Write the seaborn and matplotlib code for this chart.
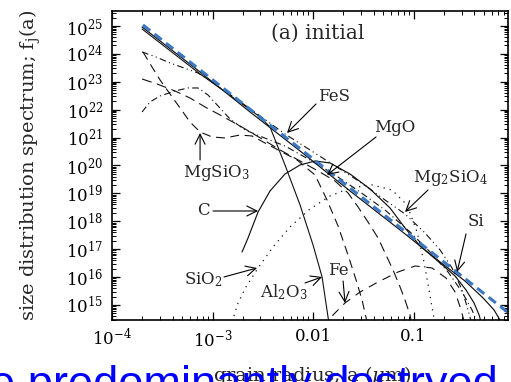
import numpy as np
import pandas as pd
import matplotlib
matplotlib.use("Agg")
import matplotlib.pyplot as plt
import matplotlib.ticker as mticker
import seaborn as sns

# values are log10(grain radius / um) and log10(f_j(a))
si_la = [-3.701, -3.124, -2.627, -2.129, -1.632, -1.134, -0.736, -0.488, -0.308, -0.199, -0.129, -0.090]
si_lf = [24.964, 23.351, 21.918, 20.520, 19.086, 17.688, 16.541, 15.860, 15.251, 14.821, 14.391, 14.032]

c_la = [-2.706, -2.647, -2.547, -2.428, -2.279, -2.129, -1.980, -1.831, -1.632, -1.433, -1.234,
        -1.085, -0.935, -0.736, -0.587, -0.478, -0.398, -0.348, -0.318]
c_lf = [16.900, 17.401, 18.333, 19.086, 19.695, 20.018, 20.161, 20.090, 19.695, 19.158, 18.477,
        17.760, 17.115, 16.505, 16.039, 15.538, 15.072, 14.642, 14.247]

fes_la = [-3.701, -3.124, -2.677, -2.527, -2.428, -2.279, -2.129, -2.000, -1.910, -1.851, -1.831]
fes_lf = [24.892, 23.280, 22.133, 21.738, 21.380, 20.018, 18.584, 17.151, 16.004, 14.570, 14.104]

sio2_la = [-2.806, -2.746, -2.667, -2.547, -2.398, -2.229, -2.030, -1.831, -1.632, -1.413, -1.214,
           -1.065, -0.965, -0.896, -0.846, -0.806, -0.776]
sio2_lf = [14.391, 15.072, 15.645, 16.326, 17.079, 17.796, 18.441, 18.907, 19.194, 19.301, 19.122,
           18.584, 17.617, 16.541, 15.538, 14.713, 14.104]

mgsio3_la = [-3.692, -3.602, -3.522, -3.423, -3.323, -3.224, -3.124, -3.005, -2.876, -2.726, -2.607,
             -2.478, -2.328, -2.159, -1.980, -1.861, -1.751, -1.652, -1.572, -1.512, -1.463]
mgsio3_lf = [24.068, 23.530, 23.065, 22.563, 22.061, 21.559, 21.201, 21.022, 20.986, 21.093, 21.057,
             20.806, 20.520, 20.197, 19.659, 18.763, 17.832, 16.792, 15.896, 15.179, 14.391]

al2o3_la = [-3.701, -3.552, -3.373, -3.224, -3.075, -2.925, -2.726, -2.507, -2.328, -2.129, -1.950,
            -1.781, -1.652, -1.552, -1.453, -1.353, -1.274, -1.204, -1.134, -1.085, -1.035, -1.015]
al2o3_lf = [23.100, 22.921, 22.670, 22.419, 22.097, 21.810, 21.416, 20.950, 20.556, 20.161, 19.803,
            19.444, 19.014, 18.513, 17.975, 17.401, 16.792, 16.254, 15.645, 15.179, 14.642, 14.283]

fe_la = [-1.871, -1.801, -1.682, -1.532, -1.353, -1.154, -0.985, -0.816, -0.677, -0.587, -0.527, -0.488]
fe_lf = [14.104, 14.642, 15.072, 15.466, 15.824, 16.183, 16.398, 16.326, 15.968, 15.466, 14.824, 14.283]

mgo_la = [-3.701, -3.622, -3.522, -3.373, -3.244, -3.144, -3.045, -2.945, -2.826, -2.677, -2.507,
          -2.279, -2.030, -1.781, -1.532, -1.284, -1.035, -0.836, -0.657, -0.517, -0.418, -0.358]
mgo_lf = [21.918, 22.276, 22.491, 22.670, 22.778, 22.778, 22.527, 22.133, 21.667, 21.272, 21.022,
          20.699, 20.197, 19.659, 19.050, 18.405, 17.617, 16.900, 16.183, 15.466, 14.821, 14.283]

mg2sio4_la = [-3.701, -3.562, -3.423, -3.284, -3.144, -2.975, -2.776, -2.527, -2.279, -2.030, -1.781,
              -1.532, -1.284, -1.085, -0.886, -0.736, -0.617, -0.517, -0.458, -0.418]
mg2sio4_lf = [24.068, 23.889, 23.674, 23.495, 23.315, 22.921, 22.419, 21.774, 21.129, 20.556, 19.982,
              19.409, 18.763, 18.262, 17.581, 16.971, 16.326, 15.538, 14.821, 14.283]

fit_la = [-3.692, 0.060]
fit_lf = [25.036, 14.391]

# labels: (text, text position, arrow start, arrow tip) in log10 data units
labels = ["FeS", "MgO", "Mg$_2$SiO$_4$", "Si", "MgSiO$_3$", "C", "SiO$_2$", "Fe", "Al$_2$O$_3$"]
label_pos = [(-1.791, 22.455), (-1.184, 21.344), (-0.637, 19.552), (-0.378, 17.975), (-2.965, 19.731),
             (-3.095, 18.369), (-3.095, 15.896), (-1.751, 16.254), (-2.289, 15.466)]
arrow_from = [(-1.970, 22.204), (-1.373, 21.022), (-0.856, 19.122), (-0.478, 17.545), (-3.124, 20.197),
              (-2.995, 18.369), (-2.886, 16.004), (-1.701, 15.860), (-2.080, 15.789)]
arrow_to = [(-2.259, 21.165), (-1.861, 19.659), (-1.085, 18.333), (-0.567, 16.183), (-3.124, 21.165),
            (-2.547, 18.369), (-2.557, 16.326), (-1.682, 15.072), (-1.910, 16.004)]

sns.set_style("ticks")
plt.rcParams['font.family'] = ['DejaVu Serif']
plt.rcParams['mathtext.fontset'] = 'dejavuserif'

fig = plt.figure(figsize=(5.11, 3.82), dpi=100)
ax = fig.add_axes([0.2192, 0.1623, 0.775, 0.809])
ax.set_xscale('log')
ax.set_yscale('log')

curves = [
    (si_la, si_lf, '-', 0.85),
    (c_la, c_lf, '-', 0.85),
    (fes_la, fes_lf, '-', 0.8),
    (sio2_la, sio2_lf, (0, (1, 4)), 0.9),
    (mgsio3_la, mgsio3_lf, (0, (8, 5)), 0.8),
    (al2o3_la, al2o3_lf, (0, (9, 5)), 0.8),
    (fe_la, fe_lf, (0, (8, 6)), 0.8),
    (mgo_la, mgo_lf, (0, (6, 3, 1, 3)), 0.8),
    (mg2sio4_la, mg2sio4_lf, (0, (6, 3, 1, 3, 1, 3)), 0.8),
]
for la, lf, ls, lw in curves:
    df = pd.DataFrame({'a': 10 ** np.array(la), 'f': 10 ** np.array(lf)})
    sns.lineplot(data=df, x='a', y='f', ax=ax, color='#111111', linewidth=lw,
                 linestyle=ls, sort=False, estimator=None, legend=False)

df_fit = pd.DataFrame({'a': 10 ** np.array(fit_la), 'f': 10 ** np.array(fit_lf)})
sns.lineplot(data=df_fit, x='a', y='f', ax=ax, color='#3b78c3', linewidth=2.2,
             linestyle=(0, (3, 1.8)), sort=False, estimator=None, legend=False)

ax.set_xlim(1e-4, 10 ** -0.06)
ax.set_ylim(10 ** 14.462, 10 ** 25.538)

ax.xaxis.set_major_locator(mticker.LogLocator(base=10, numticks=20))
ax.xaxis.set_minor_locator(mticker.LogLocator(base=10, subs=np.arange(2, 10), numticks=50))
ax.yaxis.set_major_locator(mticker.LogLocator(base=10, numticks=40))
ax.yaxis.set_minor_locator(mticker.LogLocator(base=10, subs=np.arange(2, 10), numticks=200))

def xfmt(v, pos):
    e = int(round(np.log10(v)))
    if e <= -3:
        return r'$10^{%d}$' % e
    return '%g' % v

ax.xaxis.set_major_formatter(mticker.FuncFormatter(xfmt))
ax.xaxis.set_minor_formatter(mticker.NullFormatter())
ax.yaxis.set_major_formatter(mticker.LogFormatterMathtext())
ax.yaxis.set_minor_formatter(mticker.NullFormatter())

ax.tick_params(which='both', direction='in', top=True, right=True, colors='black', labelsize=12)
ax.tick_params(which='major', length=6, width=0.9, pad=6)
ax.tick_params(which='minor', length=3, width=0.7)
for s in ax.spines.values():
    s.set_linewidth(1.2)
    s.set_color('black')

ax.set_xlabel(r'grain radius; a ($\mu$m)', fontsize=14)
ax.xaxis.set_label_coords(0.505, -0.178)
ax.xaxis.label.set_va('center')
ax.set_ylabel(r'size distribution spectrum; f$_{\rm j}$(a)', fontsize=14)
ax.yaxis.set_label_coords(-0.207, 0.5)
ax.yaxis.label.set_va('center')

ax.text(0.52, 0.929, '(a) initial', transform=ax.transAxes, ha='center', va='center', fontsize=14.5)

for txt, tp, af, at in zip(labels, label_pos, arrow_from, arrow_to):
    ax.text(10 ** tp[0], 10 ** tp[1], txt, ha='center', va='center', fontsize=12)
    ax.annotate('', xy=(10 ** at[0], 10 ** at[1]), xytext=(10 ** af[0], 10 ** af[1]),
                arrowprops=dict(arrowstyle='->,head_length=0.6,head_width=0.3', color='black',
                                lw=0.8, shrinkA=0, shrinkB=0, mutation_scale=12))

fig.text(-0.0196, -0.039, 'e predominantly destryed', color='#0000ff', fontsize=32.6,
         family='Liberation Sans', ha='left', va='baseline')

fig.savefig('out.png', dpi=100)
